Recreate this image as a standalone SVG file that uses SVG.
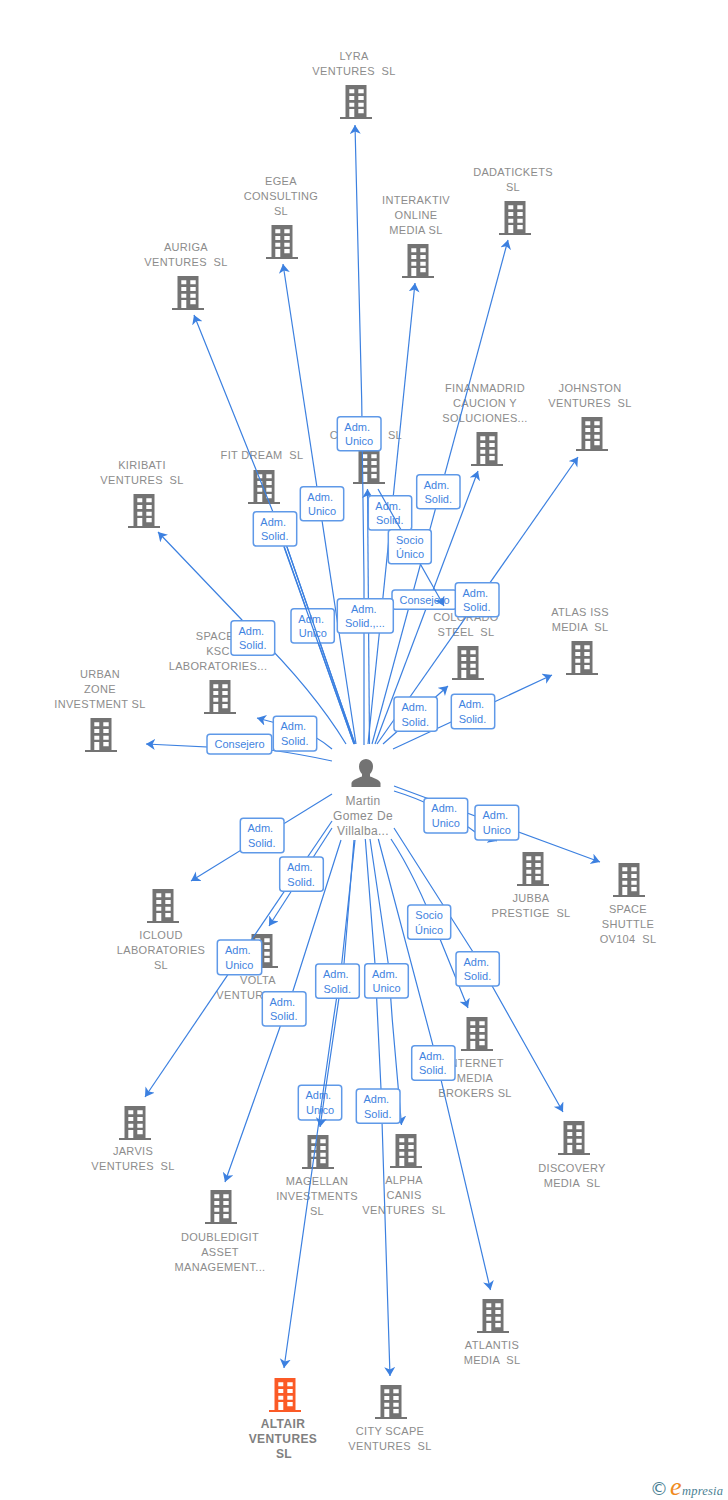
<svg xmlns="http://www.w3.org/2000/svg" width="728" height="1500" viewBox="0 0 728 1500">
<style>
text{font-family:"Liberation Sans",Arial,sans-serif;white-space:pre}
.n{font-size:11px;fill:#8c8c8c;text-anchor:middle;letter-spacing:.32px}
.p{font-size:12px;letter-spacing:.3px}
.a{font-size:12px;font-weight:bold;letter-spacing:.4px;fill:#808080}
.b{fill:#737373}
.o{fill:#fb5a26}
.c{fill:none;stroke:#3c80e0;stroke-width:1.2}
.h{marker-end:url(#ah)}
.l{fill:#fff;stroke:#5f99e8;stroke-width:1.5;rx:3px}
.t{font-size:11px;fill:#3f83e0}
</style>
<defs>
<marker id="ah" markerUnits="userSpaceOnUse" markerWidth="11" markerHeight="12" refX="9" refY="5.500" orient="auto"><path d="M9,5.500 L0,0 L2.500,5.500 L0,11 Z" fill="#3c80e0"/></marker>
<path id="bld" fill-rule="evenodd" d="M-10.500,0H10.500V32H16V34H-16V32H-10.500ZM-6.700,4.300V8.300H-1.700V4.300ZM2.300,4.300V8.300H7.700V4.300ZM-6.700,11V15H-1.700V11ZM2.300,11V15H7.700V11ZM-6.700,17.700V21.700H-1.700V17.700ZM2.300,17.700V21.700H7.700V17.700ZM-6.700,24V32H-1.700V24ZM2.300,24V28.300H7.700V24Z"/>
</defs>
<rect width="728" height="1500" fill="#fff"/>
<g id="lyra"><use href="#bld" x="356" y="85" class="b"/><text class="n"><tspan x="354" y="60">LYRA</tspan><tspan x="354" y="75">VENTURES  SL</tspan></text></g>
<g id="egea"><use href="#bld" x="282" y="225" class="b"/><text class="n"><tspan x="281" y="185">EGEA</tspan><tspan x="281" y="200">CONSULTING</tspan><tspan x="281" y="215">SL</tspan></text></g>
<g id="interaktiv"><use href="#bld" x="418" y="244" class="b"/><text class="n"><tspan x="416" y="204">INTERAKTIV</tspan><tspan x="416" y="219">ONLINE</tspan><tspan x="416" y="234">MEDIA SL</tspan></text></g>
<g id="dadatickets"><use href="#bld" x="515" y="201" class="b"/><text class="n"><tspan x="513" y="176">DADATICKETS</tspan><tspan x="513" y="191">SL</tspan></text></g>
<g id="auriga"><use href="#bld" x="188" y="276" class="b"/><text class="n"><tspan x="186" y="251">AURIGA</tspan><tspan x="186" y="266">VENTURES  SL</tspan></text></g>
<g id="finanmadrid"><use href="#bld" x="487" y="432" class="b"/><text class="n"><tspan x="485" y="392">FINANMADRID</tspan><tspan x="485" y="407">CAUCION Y</tspan><tspan x="485" y="422">SOLUCIONES...</tspan></text></g>
<g id="johnston"><use href="#bld" x="592" y="417" class="b"/><text class="n"><tspan x="590" y="392">JOHNSTON</tspan><tspan x="590" y="407">VENTURES  SL</tspan></text></g>
<g id="hidden"><use href="#bld" x="369" y="450" class="b"/><text class="n"><tspan x="334" y="439">C</tspan><tspan x="395" y="439">SL</tspan></text></g>
<g id="fitdream"><use href="#bld" x="264" y="470" class="b"/><text class="n"><tspan x="262" y="459">FIT DREAM  SL</tspan></text></g>
<g id="kiribati"><use href="#bld" x="144" y="494" class="b"/><text class="n"><tspan x="142" y="469">KIRIBATI</tspan><tspan x="142" y="484">VENTURES  SL</tspan></text></g>
<g id="spacel"><use href="#bld" x="220" y="680" class="b"/><text class="n"><tspan x="218" y="640">SPACEL</tspan><tspan x="218" y="655">KSC</tspan><tspan x="218" y="670">LABORATORIES...</tspan></text></g>
<g id="urban"><use href="#bld" x="101" y="718" class="b"/><text class="n"><tspan x="100" y="678">URBAN</tspan><tspan x="100" y="693">ZONE</tspan><tspan x="100" y="708">INVESTMENT SL</tspan></text></g>
<g id="colorado"><use href="#bld" x="468" y="646" class="b"/><text class="n"><tspan x="466" y="621">COLORADO</tspan><tspan x="466" y="636">STEEL  SL</tspan></text></g>
<g id="atlas"><use href="#bld" x="582" y="641" class="b"/><text class="n"><tspan x="580" y="616">ATLAS ISS</tspan><tspan x="580" y="631">MEDIA  SL</tspan></text></g>
<g id="jubba"><use href="#bld" x="533" y="852" class="b"/><text class="n"><tspan x="531" y="902">JUBBA</tspan><tspan x="531" y="917">PRESTIGE  SL</tspan></text></g>
<g id="shuttle"><use href="#bld" x="629" y="863" class="b"/><text class="n"><tspan x="628" y="913">SPACE</tspan><tspan x="628" y="928">SHUTTLE</tspan><tspan x="628" y="943">OV104  SL</tspan></text></g>
<g id="icloud"><use href="#bld" x="163" y="889" class="b"/><text class="n"><tspan x="161" y="939">ICLOUD</tspan><tspan x="161" y="954">LABORATORIES</tspan><tspan x="161" y="969">SL</tspan></text></g>
<g id="volta"><use href="#bld" x="262" y="934" class="b"/><text class="n"><tspan x="258" y="984">VOLTA</tspan><tspan x="258" y="999">VENTURES  SL</tspan></text></g>
<g id="internet"><use href="#bld" x="477" y="1017" class="b"/><text class="n"><tspan x="475" y="1067">INTERNET</tspan><tspan x="475" y="1082">MEDIA</tspan><tspan x="475" y="1097">BROKERS SL</tspan></text></g>
<g id="jarvis"><use href="#bld" x="135" y="1106" class="b"/><text class="n"><tspan x="133" y="1155">JARVIS</tspan><tspan x="133" y="1170">VENTURES  SL</tspan></text></g>
<g id="discovery"><use href="#bld" x="574" y="1121" class="b"/><text class="n"><tspan x="572" y="1172">DISCOVERY</tspan><tspan x="572" y="1187">MEDIA  SL</tspan></text></g>
<g id="doubledigit"><use href="#bld" x="221" y="1190" class="b"/><text class="n"><tspan x="220" y="1241">DOUBLEDIGIT</tspan><tspan x="220" y="1256">ASSET</tspan><tspan x="220" y="1271">MANAGEMENT...</tspan></text></g>
<g id="magellan"><use href="#bld" x="318" y="1135" class="b"/><text class="n"><tspan x="317" y="1185">MAGELLAN</tspan><tspan x="317" y="1200">INVESTMENTS</tspan><tspan x="317" y="1215">SL</tspan></text></g>
<g id="alpha"><use href="#bld" x="406" y="1134" class="b"/><text class="n"><tspan x="404" y="1184">ALPHA</tspan><tspan x="404" y="1199">CANIS</tspan><tspan x="404" y="1214">VENTURES  SL</tspan></text></g>
<g id="atlantis"><use href="#bld" x="493" y="1299" class="b"/><text class="n"><tspan x="492" y="1349">ATLANTIS</tspan><tspan x="492" y="1364">MEDIA  SL</tspan></text></g>
<g id="altair"><use href="#bld" x="285" y="1378" class="o"/><text class="n a"><tspan x="283" y="1428">ALTAIR</tspan><tspan x="283" y="1443">VENTURES</tspan><tspan x="284" y="1458">SL</tspan></text></g>
<g id="cityscape"><use href="#bld" x="391" y="1385" class="b"/><text class="n"><tspan x="390" y="1435">CITY SCAPE</tspan><tspan x="390" y="1450">VENTURES  SL</tspan></text></g>
<g id="person"><path class="b" d="M366,759c-4.500,0-7,3.500-7,7.500 0,3 1.300,6 3,7.500v2.500c-4,1.500-10,3.500-10.500,6.500v4h29v-4c-.5-3-6.500-5-10.500-6.500v-2.500c1.700-1.500 3-4.500 3-7.500 0-4-2.500-7.500-7-7.500Z"/><text class="n p"><tspan x="363" y="805">Martin</tspan><tspan x="363" y="820">Gomez De</tspan><tspan x="363" y="835">Villalba...</tspan></text></g>
<g id="connectors">
<path class="c h" d="M364,745L364,580L361.700,400L355,125"/>
<path class="c h" d="M356,744L283,264"/>
<path class="c h" d="M368,744L415,283"/>
<path class="c h" d="M372,744L508,240"/>
<path class="c h" d="M355,744L287,547L194,315"/>
<path class="c h" d="M375,744L478,471"/>
<path class="c h" d="M377,744L578,457"/>
<path class="c h" d="M369.500,744L367.500,489"/>
<path class="c h" d="M354,744L272,512"/>
<path class="c h" d="M346,744Q310,685 242,620L158,532"/>
<path class="c h" d="M332,749Q317,736 295,728L257,718"/>
<path class="c h" d="M332,761Q300,754 270,750L146,744"/>
<path class="c h" d="M383,744L448,686"/>
<path class="c h" d="M393,749L552,675"/>
<path class="c h" d="M394,791Q440,805 475,832L497,841"/>
<path class="c h" d="M394,786L600,862"/>
<path class="c h" d="M332,794L191,881"/>
<path class="c h" d="M332,821L145,1097"/>
<path class="c h" d="M332,828L269,926"/>
<path class="c h" d="M341,840L292.700,991.700L280,1027L225,1182"/>
<path class="c h" d="M365.300,839L375,964L381,1089L390,1376"/>
<path class="c h" d="M370,839L388.300,964L392.300,1020L401.500,1125"/>
<path class="c h" d="M378.300,839L433,1045.700L490.500,1290"/>
<path class="c h" d="M391,839Q415,875 440,939L468,1008"/>
<path class="c h" d="M394,828Q430,885 473,952L563,1112"/>
<g class="lab"><rect class="l" x="337.300" y="416.700" width="43.700" height="34"/><text class="t"><tspan x="344.300" y="430.500">Adm.</tspan><tspan x="345" y="445">Unico</tspan></text></g>
<g class="lab"><rect class="l" x="253.300" y="511.700" width="43.400" height="34.300"/><text class="t"><tspan x="260.300" y="525.500">Adm.</tspan><tspan x="261" y="540">Solid.</tspan></text></g>
<g class="lab"><rect class="l" x="300.300" y="486.700" width="43.400" height="34"/><text class="t"><tspan x="307.300" y="500.500">Adm.</tspan><tspan x="308" y="515">Unico</tspan></text></g>
<g class="lab"><rect class="l" x="368.300" y="495.700" width="43.400" height="34.300"/><text class="t"><tspan x="375.300" y="509.500">Adm.</tspan><tspan x="376" y="524">Solid.</tspan></text></g>
<g class="lab"><rect class="l" x="416.700" y="474.700" width="43.300" height="34"/><text class="t"><tspan x="423.700" y="488.500">Adm.</tspan><tspan x="424.500" y="503">Solid.</tspan></text></g>
<g class="lab"><rect class="l" x="392" y="590" width="64.700" height="19.300"/><text class="t"><tspan x="399.500" y="603.500">Consejero</tspan></text></g>
<path class="c h" d="M378,489L444,606"/>
<g class="lab"><rect class="l" x="388.300" y="529.700" width="43" height="34"/><text class="t"><tspan x="396" y="543.500">Socio</tspan><tspan x="396" y="558">Único</tspan></text></g>
<g class="lab"><rect class="l" x="455.300" y="582.700" width="43.700" height="34"/><text class="t"><tspan x="462.500" y="596.500">Adm.</tspan><tspan x="463" y="611">Solid.</tspan></text></g>
<g class="lab"><rect class="l" x="337.300" y="598.700" width="56" height="34.300"/><text class="t"><tspan x="351" y="612.500">Adm.</tspan><tspan x="345" y="627">Solid.,...</tspan></text></g>
<g class="lab"><rect class="l" x="291" y="608.700" width="43.300" height="34.300"/><text class="t"><tspan x="298.300" y="622.500">Adm.</tspan><tspan x="298.700" y="637">Unico</tspan></text></g>
<path class="c" d="M355,744L287,547M354,744L284,547"/>
<g class="lab"><rect class="l" x="231" y="620.700" width="43.700" height="34.600"/><text class="t"><tspan x="238.500" y="634.500">Adm.</tspan><tspan x="239" y="649">Solid.</tspan></text></g>
<g class="lab"><rect class="l" x="273.300" y="716.300" width="43.400" height="34.700"/><text class="t"><tspan x="280.500" y="730">Adm.</tspan><tspan x="281" y="745">Solid.</tspan></text></g>
<g class="lab"><rect class="l" x="207" y="734.300" width="64.700" height="19.700"/><text class="t"><tspan x="214.500" y="748">Consejero</tspan></text></g>
<g class="lab"><rect class="l" x="394" y="697" width="43.300" height="34.300"/><text class="t"><tspan x="401.500" y="711">Adm.</tspan><tspan x="401.500" y="725.500">Solid.</tspan></text></g>
<g class="lab"><rect class="l" x="451.300" y="694.300" width="43.400" height="34.400"/><text class="t"><tspan x="458.500" y="708">Adm.</tspan><tspan x="458.700" y="723">Solid.</tspan></text></g>
<g class="lab"><rect class="l" x="240.300" y="818.300" width="43.700" height="34.400"/><text class="t"><tspan x="247.500" y="832">Adm.</tspan><tspan x="248" y="847">Solid.</tspan></text></g>
<g class="lab"><rect class="l" x="279.700" y="857" width="43.600" height="34.300"/><text class="t"><tspan x="287" y="871">Adm.</tspan><tspan x="287.300" y="885.500">Solid.</tspan></text></g>
<g class="lab"><rect class="l" x="424" y="798.300" width="43.700" height="34.700"/><text class="t"><tspan x="431.300" y="812">Adm.</tspan><tspan x="431.700" y="827">Unico</tspan></text></g>
<g class="lab"><rect class="l" x="475" y="805.300" width="43.700" height="34.700"/><text class="t"><tspan x="482.500" y="819">Adm.</tspan><tspan x="482.700" y="834">Unico</tspan></text></g>
<g class="lab"><rect class="l" x="407.700" y="905" width="43" height="34.300"/><text class="t"><tspan x="415.300" y="919">Socio</tspan><tspan x="415" y="933.500">Único</tspan></text></g>
<g class="lab"><rect class="l" x="456" y="951.700" width="43.300" height="34.300"/><text class="t"><tspan x="463.500" y="965.500">Adm.</tspan><tspan x="463.700" y="980">Solid.</tspan></text></g>
<g class="lab"><rect class="l" x="217.300" y="940" width="44.400" height="34.700"/><text class="t"><tspan x="225" y="954">Adm.</tspan><tspan x="225.300" y="969">Unico</tspan></text></g>
<g class="lab"><rect class="l" x="262.300" y="991.700" width="43.700" height="34.300"/><text class="t"><tspan x="269.500" y="1005.500">Adm.</tspan><tspan x="270" y="1020">Solid.</tspan></text></g>
<g class="lab"><rect class="l" x="364.700" y="963.700" width="43.600" height="34.300"/><text class="t"><tspan x="372" y="977.500">Adm.</tspan><tspan x="372.500" y="992">Unico</tspan></text></g>
<g class="lab"><rect class="l" x="298.300" y="1085.300" width="43.400" height="34.700"/><text class="t"><tspan x="305.500" y="1099">Adm.</tspan><tspan x="306" y="1114">Unico</tspan></text></g>
<path class="c h" d="M354,840L344,964L320,1127"/>
<path class="c h" d="M355,840L341.700,964L333.300,1020L284,1368"/>
<g class="lab"><rect class="l" x="315.700" y="964" width="43.600" height="34.300"/><text class="t"><tspan x="323" y="978">Adm.</tspan><tspan x="323.500" y="992.500">Solid.</tspan></text></g>
<g class="lab"><rect class="l" x="356.300" y="1089" width="43.700" height="34.300"/><text class="t"><tspan x="363.500" y="1103">Adm.</tspan><tspan x="364" y="1117.500">Solid.</tspan></text></g>
<g class="lab"><rect class="l" x="411.700" y="1045.700" width="43.300" height="34.600"/><text class="t"><tspan x="419" y="1059.500">Adm.</tspan><tspan x="419" y="1074">Solid.</tspan></text></g>
</g>
<g id="logo"><text x="650" y="1495" font-size="18" fill="#4a7f93" style="font-family:'DejaVu Sans',sans-serif">©</text><text x="670" y="1495" font-size="26" fill="#f08a1d" style="font-family:'Liberation Serif',serif;font-style:italic">e</text><text x="682" y="1495" font-size="12.500" letter-spacing=".2" fill="#4a7f93" style="font-family:'Liberation Serif',serif;font-style:italic">mpresia</text></g>
</svg>
